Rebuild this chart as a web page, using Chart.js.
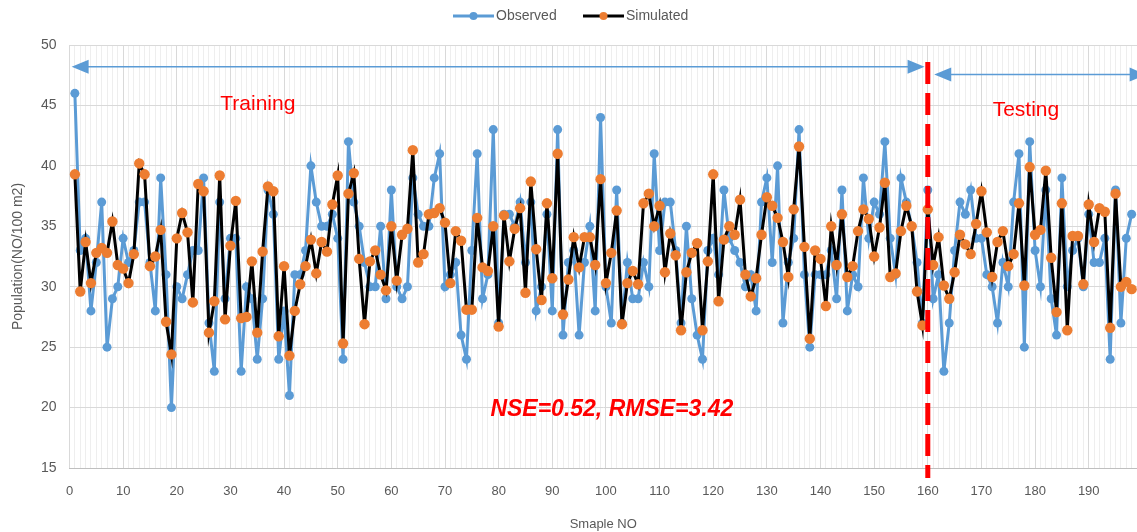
<!DOCTYPE html>
<html><head><meta charset="utf-8">
<script src="https://cdn.jsdelivr.net/npm/chart.js@4.4.1/dist/chart.umd.min.js"></script>
<style>html,body{margin:0;padding:0;background:#fff;overflow:hidden}#wrap{width:1137px;height:532px;position:relative}</style>
</head><body><div id="wrap"><canvas id="c" width="1137" height="532"></canvas></div>
<script>
const observed = [46,33,34,28,32,37,25,29,30,34,32,33,37,37,32,28,39,31,20,30,
29,31,33,33,39,27,23,37,29,34,34,23,30,29,24,29,38,36,24,28,
21,31,31,33,40,37,35,35,36,34,24,42,37,35,32,30,30,35,29,38,
30,29,30,39,36,35,35,39,41,30,31,32,26,24,33,41,29,31,43,27,
36,36,35,37,32,37,28,30,36,28,43,26,32,33,26,32,35,28,44,30,
27,38,27,32,29,29,32,30,41,33,37,37,33,27,35,29,26,24,33,34,
31,38,34,33,32,30,31,28,37,39,32,40,27,32,34,43,31,25,31,31,
31,33,29,38,28,31,30,39,34,37,36,42,34,31,39,37,35,32,27,38,
29,31,23,27,33,37,36,38,34,34,31,30,27,32,30,37,41,25,42,33,
30,38,29,26,39,30,33,34,30,36,32,32,34,24,38,27,34,36];
const simulated = [39.3,29.6,33.7,30.3,32.8,33.2,32.8,35.4,31.8,31.5,30.3,32.7,40.2,39.3,31.7,32.5,34.7,27.1,24.4,34.0,
36.1,34.5,28.7,38.5,37.9,26.2,28.8,39.2,27.3,33.4,37.1,27.4,27.5,32.1,26.2,32.9,38.3,37.9,25.9,31.7,
24.3,28.0,30.2,31.7,33.9,31.1,33.7,32.9,36.8,39.2,25.3,37.7,39.4,32.3,26.9,32.1,33.0,31.0,29.7,35.0,
30.5,34.3,34.8,41.3,32.0,32.7,36.0,36.1,36.5,35.3,30.3,34.6,33.8,28.1,28.1,35.7,31.6,31.3,35.0,26.7,
35.9,32.1,34.8,36.5,29.5,38.7,33.1,28.9,36.9,30.7,41.0,27.7,30.6,34.1,31.6,34.1,34.1,31.8,38.9,30.3,
32.8,36.3,26.9,30.3,31.3,30.2,36.9,37.7,35.0,36.7,31.2,34.4,32.6,26.4,31.2,32.8,33.6,26.4,32.1,39.3,
28.8,33.9,35.0,34.3,37.2,31.0,29.2,30.7,34.3,37.4,36.7,35.7,33.7,30.8,36.4,41.6,33.3,25.7,33.0,32.3,
28.4,35.0,31.8,36.0,30.8,31.7,34.6,36.4,35.6,32.5,34.9,38.6,30.8,31.1,34.6,36.7,35.0,29.6,26.8,36.4,
31.8,34.1,30.1,29.0,31.2,34.3,33.5,32.7,35.2,37.9,34.5,30.8,33.7,34.6,31.7,32.7,36.9,30.1,39.9,34.3,
34.7,39.6,32.4,27.9,36.9,26.4,34.2,34.2,30.2,36.8,33.7,36.5,36.2,26.6,37.7,30.0,30.4,29.8];
const sampleNo = observed.map((_, i) => i + 1);
const xTickLabels = [0,10,20,30,40,50,60,70,80,90,100,110,120,130,140,150,160,170,180,190];
const yTickLabels = [15,20,25,30,35,40,45,50];
const seriesNames = ['Observed','Simulated'];
const splitSample = 160;
const labelTraining = 'Training';
const labelTesting = 'Testing';
const labelMetrics = 'NSE=0.52, RMSE=3.42';

const BLUE = '#5B9BD5', ORANGE = '#ED7D31', BLACK = '#000000', RED = '#FF0000', TXT = '#595959';
const FONT = '"Liberation Sans", Arial, sans-serif';

function arrowHead(ctx, tipX, y, dir) {
  ctx.beginPath();
  ctx.moveTo(tipX, y);
  ctx.lineTo(tipX - dir * 17, y - 7);
  ctx.lineTo(tipX - dir * 17, y + 7);
  ctx.closePath();
  ctx.fill();
}
function doubleArrow(ctx, x1, x2, y, color) {
  ctx.save();
  ctx.strokeStyle = color; ctx.fillStyle = color; ctx.lineWidth = 1.5;
  ctx.beginPath(); ctx.moveTo(x1 + 10, y); ctx.lineTo(x2 - 10, y); ctx.stroke();
  arrowHead(ctx, x1, y, -1);
  arrowHead(ctx, x2, y, 1);
  ctx.restore();
}

const overlay = {
  id: 'overlay',
  afterDatasetsDraw(chart) {
    const {ctx, scales: {x, y}, chartArea} = chart;
    ctx.save();
    doubleArrow(ctx, x.getPixelForValue(0.4), x.getPixelForValue(159.4), y.getPixelForValue(48.2), BLUE);
    doubleArrow(ctx, x.getPixelForValue(161.2), x.getPixelForValue(200.8), y.getPixelForValue(47.55), BLUE);
    const xs = x.getPixelForValue(splitSample);
    ctx.strokeStyle = RED; ctx.lineWidth = 5; ctx.setLineDash([22, 9]);
    ctx.beginPath(); ctx.moveTo(xs, y.getPixelForValue(48.6)); ctx.lineTo(xs, chartArea.bottom + 10); ctx.stroke();
    ctx.setLineDash([]);
    ctx.fillStyle = RED; ctx.textAlign = 'center'; ctx.textBaseline = 'middle';
    ctx.font = '21px ' + FONT;
    ctx.fillText(labelTraining, x.getPixelForValue(35.1), y.getPixelForValue(45.1));
    ctx.fillText(labelTesting, x.getPixelForValue(178.3), y.getPixelForValue(44.6));
    ctx.font = 'italic bold 23px ' + FONT;
    ctx.fillText(labelMetrics, x.getPixelForValue(101.1), y.getPixelForValue(19.8));
    ctx.restore();
  },
  afterDraw(chart) {
    const ctx = chart.ctx;
    ctx.save();
    const ly = 16;
    const items = [
      {name: seriesNames[0], line: BLUE, dot: BLUE, x0: 453},
      {name: seriesNames[1], line: BLACK, dot: ORANGE, x0: 583}
    ];
    ctx.font = '14px ' + FONT; ctx.textBaseline = 'middle'; ctx.textAlign = 'left';
    for (const it of items) {
      ctx.strokeStyle = it.line; ctx.lineWidth = 3;
      ctx.beginPath(); ctx.moveTo(it.x0, ly); ctx.lineTo(it.x0 + 41, ly); ctx.stroke();
      ctx.fillStyle = it.dot; ctx.beginPath(); ctx.arc(it.x0 + 20.5, ly, 4, 0, Math.PI * 2); ctx.fill();
      ctx.fillStyle = TXT; ctx.fillText(it.name, it.x0 + 43, ly);
    }
    ctx.restore();
  }
};

new Chart(document.getElementById('c'), {
  type: 'line',
  data: {
    datasets: [
      {label: seriesNames[0], data: sampleNo.map((s, i) => ({x: s, y: observed[i]})),
       borderColor: BLUE, backgroundColor: BLUE, pointBackgroundColor: BLUE, pointBorderWidth: 0,
       pointRadius: 4.5, borderWidth: 3, tension: 0, order: 1},
      {label: seriesNames[1], data: sampleNo.map((s, i) => ({x: s, y: simulated[i]})),
       borderColor: BLACK, backgroundColor: ORANGE, pointBackgroundColor: ORANGE, pointBorderWidth: 0,
       pointRadius: 5.2, borderWidth: 3, tension: 0, order: 0}
    ]
  },
  options: {
    responsive: false, animation: false, devicePixelRatio: 1,
    layout: {autoPadding: false, padding: {left: 0, right: 0, top: 45, bottom: 0}},
    plugins: {legend: {display: false}, tooltip: {enabled: false}},
    scales: {
      x: {
        type: 'linear', min: 0, max: 199,
        afterBuildTicks(axis) {
          const t = [];
          for (let v = 0; v <= 199; v++) t.push({value: v});
          axis.ticks = t;
        },
        afterFit(axis) { axis.height = 64; axis.paddingLeft = 0; axis.paddingRight = 0; },
        ticks: {
          autoSkip: false, maxRotation: 0, minRotation: 0, padding: 16,
          color: TXT, font: {family: FONT, size: 13},
          callback: (v) => xTickLabels.includes(v) ? String(v) : ''
        },
        grid: {
          drawTicks: false,
          color: (c) => (c.tick && c.tick.value % 10 === 0) ? '#d9d9d9' : '#eeeeee',
          lineWidth: 1
        },
        border: {color: '#bfbfbf', width: 1},
        title: {display: true, text: 'Smaple NO', color: TXT, font: {family: FONT, size: 13}, padding: {top: 8, bottom: 0}}
      },
      y: {
        min: 15, max: 50,
        afterBuildTicks(axis) { axis.ticks = yTickLabels.map(v => ({value: v})); },
        afterFit(axis) { axis.width = 69.5; },
        ticks: {padding: 13, color: TXT, font: {family: FONT, size: 14}},
        grid: {drawTicks: false, color: '#d9d9d9'},
        border: {display: false},
        title: {display: true, text: 'Population(NO/100 m2)', color: TXT, font: {family: FONT, size: 14}, padding: {top: 10, bottom: 0}}
      }
    }
  },
  plugins: [overlay]
});
</script></body></html>
